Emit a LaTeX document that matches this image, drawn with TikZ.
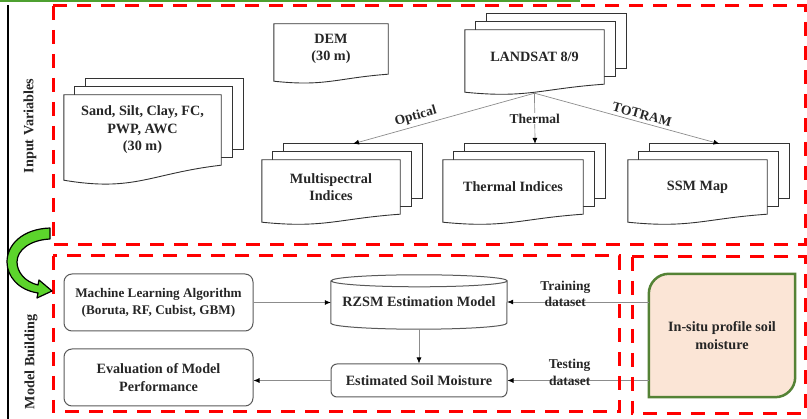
\documentclass[tikz,border=0pt]{standalone}
\usepackage{fontspec}
\setmainfont{Liberation Serif}
\usetikzlibrary{arrows.meta,calc,positioning}
\pgfdeclarelayer{background}
\pgfsetlayers{background,main}

\definecolor{dashred}{RGB}{255,0,0}
\definecolor{peach}{RGB}{251,229,214}
\definecolor{leafgreen}{RGB}{84,130,53}
\definecolor{arrowgreen}{RGB}{92,212,44}
\definecolor{topgreen}{RGB}{78,160,48}

\tikzset{
  txt/.style={font=\bfseries\fontsize{14.2}{17.5}\selectfont, text=black!85, align=center, inner sep=0pt},
  edgetxt/.style={txt, font=\bfseries\fontsize{13.5}{16.5}\selectfont},
  docline/.style={draw=black!80, line width=0.9pt, fill=white},
  roundbox/.style={txt, draw=black!65, line width=1pt, rounded corners=8pt},
  flow/.style={draw=black!45, line width=0.7pt, -{Latex[black,length=6pt,width=5pt]}},
  redbox/.style={draw=dashred, line width=3pt, dash pattern=on 14pt off 10pt}
}

% document symbol: #1 node, #2 depth of the wave, #3 sheets behind it
\newcommand\docframe[3]{%
  \ifnum#3>0
    \foreach \k in {#3,...,1}
      \draw[docline] ([shift={(\k*11pt,\k*8pt)}]#1.north west) rectangle ([shift={(\k*11pt,\k*8pt)}]#1.south east);
  \fi
  \draw[docline] (#1.north west) -- (#1.north east) -- (#1.south east)
    .. controls ($(#1.south east)!0.45!(#1.south west)+(0,-0.55*#2)$)
       and ($(#1.south west)!0.45!(#1.south east)+(0,-1.8*#2)$)
    .. ([yshift=-#2pt]#1.south west) -- cycle;
}

\begin{document}
\begin{tikzpicture}[x=1pt,y=1pt]
  \useasboundingbox (0,0) rectangle (807,-419);

  % frame lines
  \draw[topgreen, line width=2pt] (0,-1) -- (580,-1);
  \draw[line width=2.5pt] (8,-5) -- (8,-419);

  \node[txt, rotate=90] (inputlbl) at (30,-126) {Input Variables};
  \node[txt, rotate=90] (modellbl) at (31,-362) {Model Building};

  % input variables
  \node[txt, minimum width=157pt, minimum height=70pt] (soil) at (142.5,-130) {Sand, Silt, Clay, FC,\\PWP, AWC\\(30 m)};
  \node[txt, minimum width=114pt, minimum height=50pt] (dem) at (331,-49) {DEM\\(30 m)};
  \node[txt, minimum width=139pt, minimum height=54pt] (landsat) at (534.5,-57) {LANDSAT 8/9};
  \node[txt, minimum width=138pt, minimum height=54pt] (multi) at (331,-187) {Multispectral\\Indices};
  \node[txt, minimum width=140pt, minimum height=54pt] (thermidx) at (513,-187) {Thermal Indices};
  \node[txt, minimum width=139pt, minimum height=54pt] (ssm) at (697.5,-187) {SSM Map};

  \begin{pgfonlayer}{background}
    \docframe{soil}{15}{2}
    \docframe{dem}{7}{0}
    \docframe{landsat}{8}{2}
    \docframe{multi}{8}{2}
    \docframe{thermidx}{8}{2}
    \docframe{ssm}{8}{2}
  \end{pgfonlayer}

  \coordinate (lsbase) at ([yshift=-9pt]landsat.south);
  \draw[flow] (lsbase) -- node[edgetxt, sloped, above=3pt, pos=0.64] {Optical} ([shift={(22pt,16pt)}]multi.north);
  \draw[flow] (lsbase) -- node[edgetxt, fill=white, inner sep=1pt, pos=0.5] {Thermal} ([shift={(22pt,16pt)}]thermidx.north);
  \draw[flow] (lsbase) -- node[edgetxt, sloped, above=3pt, pos=0.57] {TOTRAM} ([shift={(22pt,16pt)}]ssm.north);

  % model building
  \node[roundbox, font=\bfseries\fontsize{13.2}{17}\selectfont, minimum width=189pt, minimum height=57pt] (mla) at (158.5,-302.5) {Machine Learning Algorithm\\(Boruta, RF, Cubist, GBM)};
  \node[roundbox, minimum width=189pt, minimum height=57pt] (eval) at (158.5,-377.5) {Evaluation of Model\\Performance};
  \node[txt, minimum width=176pt, minimum height=54pt] (rzsm) at (419,-302) {\raisebox{-5pt}{RZSM Estimation Model}};
  \node[roundbox, rounded corners=6pt, minimum width=176pt, minimum height=33pt] (est) at (419,-380.5) {Estimated Soil Moisture};
  \node[txt, minimum width=146pt, minimum height=123pt] (insitu) at (722,-335.5) {In-situ profile soil\\moisture};

  % cylinder outline
  \draw[draw=black!65, line width=1pt]
    ([yshift=-6pt]rzsm.north west) -- ([yshift=6pt]rzsm.south west)
    arc[start angle=180, end angle=360, x radius=88pt, y radius=6pt]
    -- ([yshift=-6pt]rzsm.north east)
    arc[start angle=0, end angle=180, x radius=88pt, y radius=6pt]
    arc[start angle=180, end angle=360, x radius=88pt, y radius=6pt];

  \begin{pgfonlayer}{background}
    \draw[fill=peach, draw=leafgreen, line width=2.5pt]
      (insitu.south west) -- ([yshift=-20pt]insitu.north west)
      arc[start angle=180, end angle=90, radius=20pt] -- (insitu.north east)
      -- ([yshift=20pt]insitu.south east)
      arc[start angle=0, end angle=-90, radius=20pt] -- cycle;
  \end{pgfonlayer}

  \draw[flow] (mla.east) -- (mla.east -| rzsm.west);
  \draw[flow] (rzsm.south) -- (est.north);
  \draw[flow] (est.west) -- (est.west -| eval.east);
  \draw[flow] (rzsm.east -| insitu.west) -- node[edgetxt, pos=0.59, yshift=8pt] {Training\\dataset} (rzsm.east);
  \draw[flow] (est.east -| insitu.west) -- node[edgetxt, pos=0.56, yshift=8pt] {Testing\\dataset} (est.east);

  % dashed groups
  \draw[redbox] (53,-6) rectangle (805,-245);
  \draw[redbox] (53,-256) rectangle (619,-412);
  \draw[redbox] (632,-257) rectangle (805,-414);

  % curved arrow from inputs down to the model
  \draw[fill=arrowgreen, line width=1.2pt, line join=round]
    (50,-228) .. controls (22,-229) and (7,-245) .. (7,-262)
    .. controls (7,-276) and (18,-290) .. (38,-293)
    -- (37,-298) -- (52,-291) -- (39,-280) -- (38,-285)
    .. controls (25,-282) and (17,-272) .. (17,-262)
    .. controls (17,-250) and (30,-240) .. (50,-239) -- cycle;
\end{tikzpicture}
\end{document}
